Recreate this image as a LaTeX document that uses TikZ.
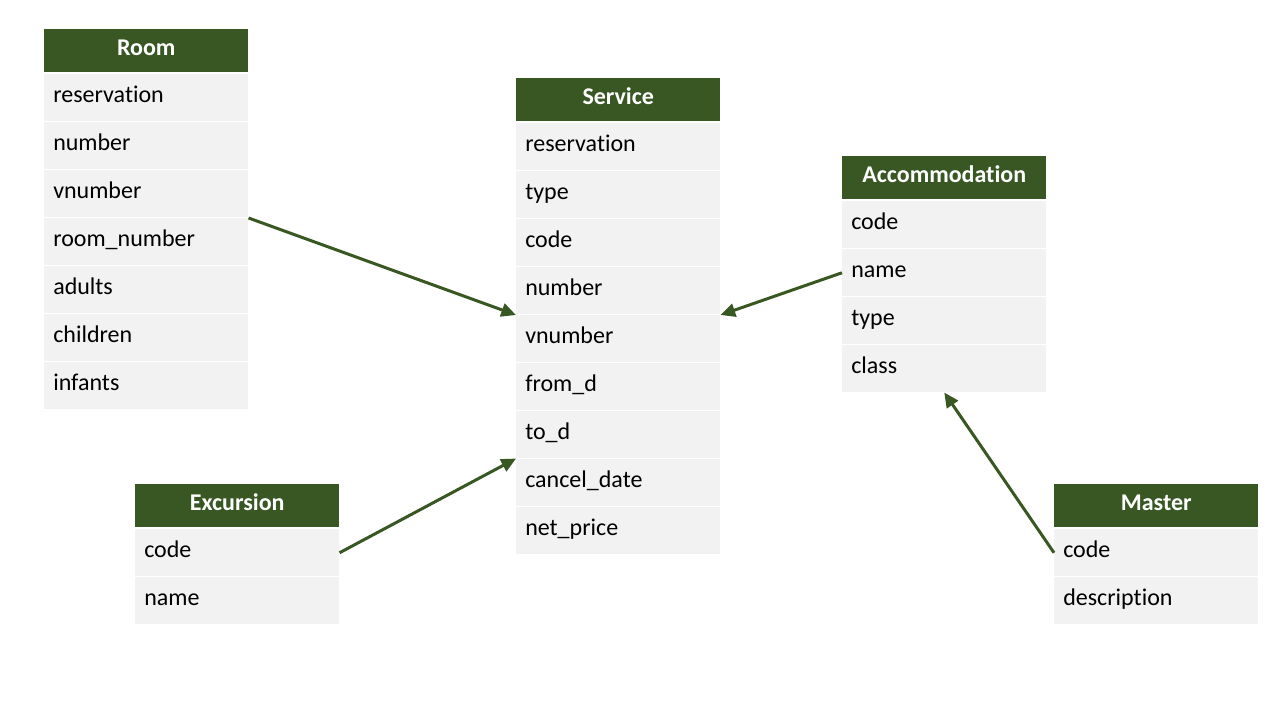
\documentclass[tikz,border=0pt]{standalone}
\usepackage{fontspec}
\setmainfont{Carlito}[Ligatures=NoCommon]
\usetikzlibrary{arrows.meta}
\definecolor{hdr}{HTML}{385723}
\definecolor{rowc}{HTML}{F2F2F2}
\tikzset{
 hdrbox/.style={rectangle, fill=hdr, text=white, font=\fontsize{18}{20}\selectfont\bfseries, minimum width=153pt, minimum height=32.25pt, inner sep=0pt, text height=11pt, text depth=4pt, anchor=north west},
 rowbox/.style={rectangle, fill=rowc, text=black, font=\fontsize{18}{20}\selectfont, text width=139.5pt, align=left, minimum height=35.25pt, inner xsep=6.75pt, inner ysep=0pt, text height=11pt, text depth=4pt, anchor=north west},
 link/.style={draw=hdr, line width=2.25pt, -{Triangle[length=11pt,width=10pt]}}
}
\newcommand\mktable[5]{%
 \node[hdrbox] (#1-h) at (#2,#3) {#4};
 \foreach \t [count=\i] in {#5} {
   \node[rowbox] (#1-\i) at (#2, #3+45+48*\i-48) {\t};
 }
}
\begin{document}
\begin{tikzpicture}[x=0.75pt,y=-0.75pt]
\useasboundingbox (0,0) rectangle (1280,720);
\mktable{room}{44}{29}{Room}{reservation,number,vnumber,room\_number,adults,children,infants}
\mktable{svc}{516}{78}{Service}{reservation,type,code,number,vnumber,from\_d,to\_d,cancel\_date,net\_price}
\mktable{acc}{842}{156}{Accommodation}{code,name,type,class}
\mktable{exc}{135}{484}{Excursion}{code,name}
\mktable{mas}{1054}{484}{Master}{code,description}
\draw[link] (room-4.north east) -- (svc-5.north west);
\draw[link] (acc-2.west) -- (svc-5.north east);
\draw[link] (exc-1.east) -- (svc-7.south west);
\draw[link] (mas-1.west) -- (acc-4.south);
\end{tikzpicture}
\end{document}
